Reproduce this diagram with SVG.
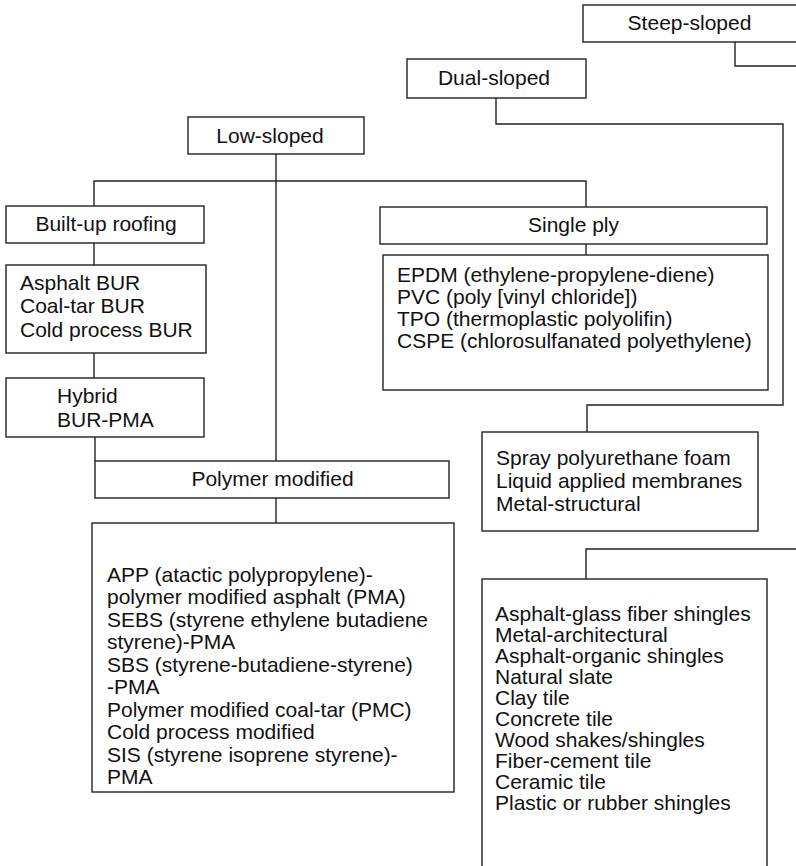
<svg xmlns="http://www.w3.org/2000/svg" width="796" height="866" viewBox="0 0 796 866">
<style>
  .box { fill: #ffffff; stroke: #222222; stroke-width: 1.4; }
  .conn { fill: none; stroke: #222222; stroke-width: 1.4; }
  text { font-family: "Liberation Sans", Arial, Helvetica, sans-serif; font-size: 21px; fill: #111111; }
  .c { text-anchor: middle; }
</style>
<rect width="796" height="866" fill="#ffffff"/>
<g id="connectors">
  <polyline class="conn" points="735,42 735,66 800,66"/>
  <polyline class="conn" points="496,98 496,124 783,124 783,405 587,405 587,432"/>
  <line class="conn" x1="276" y1="154" x2="276" y2="461"/>
  <polyline class="conn" points="94,206 94,181 586,181 586,207"/>
  <line class="conn" x1="586" y1="244" x2="586" y2="255"/>
  <line class="conn" x1="94" y1="243" x2="94" y2="265"/>
  <line class="conn" x1="94" y1="353" x2="94" y2="378"/>
  <line class="conn" x1="95" y1="437" x2="95" y2="461"/>
  <line class="conn" x1="276" y1="498" x2="276" y2="523"/>
  <polyline class="conn" points="800,549 586,549 586,579"/>
</g>
<g id="steep-sloped">
  <rect class="box" x="583" y="5" width="220" height="37"/>
  <text class="c" x="689.5" y="30">Steep-sloped</text>
</g>
<g id="dual-sloped">
  <rect class="box" x="407" y="59" width="179" height="39"/>
  <text class="c" x="494" y="85">Dual-sloped</text>
</g>
<g id="low-sloped">
  <rect class="box" x="188" y="117" width="176" height="37"/>
  <text class="c" x="270" y="143">Low-sloped</text>
</g>
<g id="built-up-roofing">
  <rect class="box" x="6" y="206" width="198" height="37"/>
  <text class="c" x="106" y="231">Built-up roofing</text>
</g>
<g id="bur-types">
  <rect class="box" x="6" y="265" width="200" height="88"/>
  <text x="20" y="290">Asphalt BUR</text>
  <text x="20" y="313">Coal-tar BUR</text>
  <text x="20" y="337">Cold process BUR</text>
</g>
<g id="hybrid">
  <rect class="box" x="6" y="378" width="198" height="59"/>
  <text x="57" y="403">Hybrid</text>
  <text x="57" y="427">BUR-PMA</text>
</g>
<g id="single-ply">
  <rect class="box" x="380" y="207" width="387" height="37"/>
  <text class="c" x="573.5" y="232">Single ply</text>
</g>
<g id="single-ply-types">
  <rect class="box" x="383" y="255" width="385" height="135"/>
  <text x="397" y="282">EPDM (ethylene-propylene-diene)</text>
  <text x="397" y="304">PVC (poly [vinyl chloride])</text>
  <text x="397" y="326">TPO (thermoplastic polyolifin)</text>
  <text x="397" y="348">CSPE (chlorosulfanated polyethylene)</text>
</g>
<g id="dual-types">
  <rect class="box" x="482" y="432" width="276" height="99"/>
  <text x="496" y="465">Spray polyurethane foam</text>
  <text x="496" y="488">Liquid applied membranes</text>
  <text x="496" y="511">Metal-structural</text>
</g>
<g id="polymer-modified">
  <rect class="box" x="95" y="461" width="354" height="37"/>
  <text class="c" x="272.5" y="486">Polymer modified</text>
</g>
<g id="polymer-types">
  <rect class="box" x="92" y="523" width="362" height="269"/>
  <text x="107" y="582">APP (atactic polypropylene)-</text>
  <text x="107" y="604">polymer modified asphalt (PMA)</text>
  <text x="107" y="627">SEBS (styrene ethylene butadiene</text>
  <text x="107" y="649">styrene)-PMA</text>
  <text x="107" y="672">SBS (styrene-butadiene-styrene)</text>
  <text x="107" y="694">-PMA</text>
  <text x="107" y="717">Polymer modified coal-tar (PMC)</text>
  <text x="107" y="739">Cold process modified</text>
  <text x="107" y="762">SIS (styrene isoprene styrene)-</text>
  <text x="107" y="784">PMA</text>
</g>
<g id="steep-types">
  <rect class="box" x="482" y="579" width="285" height="300"/>
  <text x="495" y="621">Asphalt-glass fiber shingles</text>
  <text x="495" y="642">Metal-architectural</text>
  <text x="495" y="663">Asphalt-organic shingles</text>
  <text x="495" y="684">Natural slate</text>
  <text x="495" y="705">Clay tile</text>
  <text x="495" y="726">Concrete tile</text>
  <text x="495" y="747">Wood shakes/shingles</text>
  <text x="495" y="768">Fiber-cement tile</text>
  <text x="495" y="789">Ceramic tile</text>
  <text x="495" y="810">Plastic or rubber shingles</text>
</g>
</svg>
